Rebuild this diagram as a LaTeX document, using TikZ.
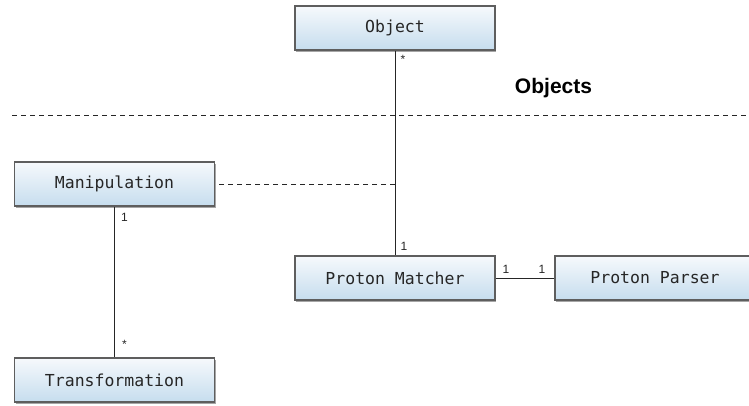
\documentclass[tikz,border=0pt]{standalone}
\usepackage{fontspec}
\setmainfont{Liberation Sans}
\newfontfamily\boxfont{DejaVu Sans Mono}
\usetikzlibrary{shadows}
\definecolor{boxtop}{HTML}{F6F9FC}
\definecolor{boxbottom}{HTML}{C6DDEE}
\definecolor{boxline}{HTML}{5E5E5E}
\tikzset{
  classbox/.style={rectangle, draw=boxline, line width=1.1pt,
    top color=boxtop, bottom color=boxbottom,
    minimum width=200pt, minimum height=44pt, inner sep=0pt,
    font=\boxfont\fontsize{16.5}{18}\selectfont, text=black!85,
    drop shadow={shadow xshift=1pt, shadow yshift=-1.5pt, opacity=0.35, fill=black}},
  assoc/.style={draw=black!85, line width=1pt},
  depend/.style={draw=black!85, line width=1pt, dash pattern=on 5pt off 4pt},
  mult/.style={font=\fontsize{12}{14}\selectfont, inner sep=1pt, text=black!85},
}
\begin{document}
\begin{tikzpicture}[x=1pt, y=-1pt]
  \useasboundingbox (0,0) rectangle (749,405);
  \clip (0,0) rectangle (749,405);

  % package boundary
  \coordinate (sepL) at (12,115);
  \coordinate (sepR) at (749,115);
  \draw[depend] (sepL) -- (sepR);
  \node[font=\bfseries\fontsize{21}{24}\selectfont] (pkg) at (553.5,88) {Objects};

  % classes
  \node[classbox] (object) at (395,28) {Object};
  \node[classbox] (manip) at (114.5,184) {Manipulation};
  \node[classbox] (trans) at (114.5,380) {Transformation};
  \node[classbox] (matcher) at (395,278) {Proton Matcher};
  \node[classbox] (parser) at (655,278) {Proton Parser};

  % associations
  \draw[assoc] (object.south) -- (matcher.north);
  \coordinate (join) at (395,184);
  \draw[depend] (join) -- (manip.east);
  \draw[assoc] (manip.south) -- (trans.north);
  \draw[assoc] (matcher.east) -- (parser.west);

  % multiplicities
  \node[mult] (m1) at (403,59) {*};
  \node[mult] (m2) at (404,246) {1};
  \node[mult] (m3) at (124.5,217) {1};
  \node[mult] (m4) at (124.5,344) {*};
  \node[mult, fill=white] (m5) at (506,269) {1};
  \node[mult, fill=white] (m6) at (542,269) {1};
\end{tikzpicture}
\end{document}
